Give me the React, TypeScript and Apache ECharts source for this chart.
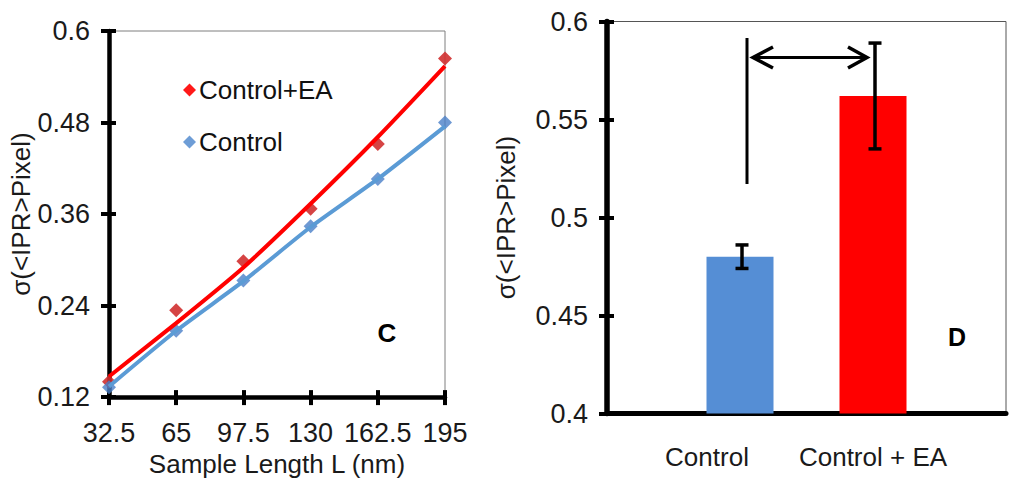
import React, { useEffect, useRef } from "react";
import * as echarts from "echarts";

// Left panel (C)
const lengths = [32.5, 65, 97.5, 130, 162.5, 195];
const eaPoints = [0.14, 0.234, 0.298, 0.367, 0.452, 0.564];
const ctrlPoints = [0.133, 0.207, 0.273, 0.344, 0.406, 0.48];
const eaTrend = [0.147, 0.217, 0.29, 0.3735, 0.461, 0.554];
const ctrlTrend = [0.134, 0.207, 0.272, 0.343, 0.406, 0.475];

// Right panel (D)
const barCategories = ["", "Control", "Control + EA", ""];
const barValues = [null, 0.48, 0.562, null];
const barErrLow = [null, 0.474, 0.535, null];
const barErrHigh = [null, 0.486, 0.589, null];

const FONT = "Liberation Sans, Arial, sans-serif";

export default function App() {
  const ref = useRef<HTMLDivElement>(null);
  useEffect(() => {
    document.body.style.margin = "0";
    const chart = echarts.init(ref.current!, null, { renderer: "svg" });

    const axisLabelStyle = { fontSize: 27, color: "#1a1a1a", fontFamily: FONT };
    const thickLine = { show: true, lineStyle: { color: "#000", width: 4.5 } };

    const option: any = {
      animation: false,
      backgroundColor: "#fff",
      textStyle: { fontFamily: FONT },
      grid: [
        { left: 109, top: 31, width: 336, height: 373, show: true, borderColor: "#7f7f7f", borderWidth: 1 },
        { left: 607, top: 21.5, width: 403, height: 392, show: true, borderColor: "#555", borderWidth: 1 },
      ],
      legend: {
        left: 178,
        top: 72,
        orient: "vertical",
        itemGap: 26,
        itemWidth: 13,
        itemHeight: 13,
        textStyle: { fontSize: 26, color: "#111", fontFamily: FONT, padding: [0, 0, 0, -2] },
        data: [
          { name: "Control+EA", icon: "diamond", itemStyle: { color: "#ff0000" } },
          { name: "Control", icon: "diamond", itemStyle: { color: "#4a84cc" } },
        ],
      },
      xAxis: [
        {
          gridIndex: 0,
          type: "value",
          position: "bottom",
          min: 32.5,
          max: 195,
          interval: 32.5,
          name: "Sample Length L (nm)",
          nameLocation: "middle",
          nameGap: 47,
          nameTextStyle: { fontSize: 26, color: "#1a1a1a", fontFamily: FONT },
          axisLine: thickLine,
          axisTick: { show: true, length: 8, lineStyle: { color: "#000", width: 4 } },
          axisLabel: { ...axisLabelStyle, margin: 22 },
          splitLine: { show: false },
        },
        {
          gridIndex: 0,
          type: "value",
          position: "bottom",
          min: 32.5,
          max: 195,
          interval: 32.5,
          axisLine: { show: false },
          axisTick: { show: true, inside: true, length: 7, lineStyle: { color: "#000", width: 4 } },
          axisLabel: { show: false },
          splitLine: { show: false },
        },
        {
          gridIndex: 1,
          type: "category",
          position: "bottom",
          data: [
            barCategories[0],
            { value: barCategories[1], textStyle: { padding: [0, 66, 0, 0] } },
            barCategories[2],
            barCategories[3],
          ],
          boundaryGap: false,
          axisLine: { show: true, lineStyle: { color: "#000", width: 5 } },
          axisTick: { show: false },
          axisLabel: { ...axisLabelStyle, fontSize: 26, margin: 30, interval: 0 },
          splitLine: { show: false },
        },
      ],
      yAxis: [
        {
          gridIndex: 0,
          type: "value",
          position: "left",
          min: 0.12,
          max: 0.6,
          interval: 0.12,
          name: "σ(<IPR>Pixel)",
          nameLocation: "middle",
          nameGap: 64,
          nameTextStyle: { fontSize: 26, color: "#1a1a1a", fontFamily: FONT },
          axisLine: thickLine,
          axisTick: { show: true, length: 8, lineStyle: { color: "#000", width: 4 } },
          axisLabel: { ...axisLabelStyle, margin: 19 },
          splitLine: { show: false },
        },
        {
          gridIndex: 0,
          type: "value",
          position: "left",
          min: 0.12,
          max: 0.6,
          interval: 0.12,
          axisLine: { show: false },
          axisTick: { show: true, inside: true, length: 7, lineStyle: { color: "#000", width: 4 } },
          axisLabel: { show: false },
          splitLine: { show: false },
        },
        {
          gridIndex: 1,
          type: "value",
          position: "left",
          min: 0.4,
          max: 0.6,
          interval: 0.05,
          name: "σ(<IPR>Pixel)",
          nameLocation: "middle",
          nameGap: 88,
          nameTextStyle: { fontSize: 26, color: "#1a1a1a", fontFamily: FONT },
          axisLine: { show: true, lineStyle: { color: "#000", width: 5.5 } },
          axisTick: { show: true, length: 8, lineStyle: { color: "#000", width: 4 } },
          axisLabel: { ...axisLabelStyle, margin: 19 },
          splitLine: { show: false },
        },
        {
          gridIndex: 1,
          type: "value",
          position: "left",
          min: 0.4,
          max: 0.6,
          interval: 0.05,
          axisLine: { show: false },
          axisTick: { show: true, inside: true, length: 7, lineStyle: { color: "#000", width: 4 } },
          axisLabel: { show: false },
          splitLine: { show: false },
        },
      ],
      series: [
        {
          name: "Control+EA",
          type: "scatter",
          xAxisIndex: 0,
          yAxisIndex: 0,
          symbol: "diamond",
          symbolSize: 14,
          itemStyle: { color: "#d03030", opacity: 0.9 },
          data: lengths.map((l, i) => [l, eaPoints[i]]),
          z: 2,
        },
        {
          name: "Control",
          type: "scatter",
          xAxisIndex: 0,
          yAxisIndex: 0,
          symbol: "diamond",
          symbolSize: 14,
          itemStyle: { color: "#4a7fc8" },
          data: lengths.map((l, i) => [l, ctrlPoints[i]]),
          z: 2,
        },
        {
          name: "Control+EA",
          type: "line",
          xAxisIndex: 0,
          yAxisIndex: 0,
          smooth: 0.2,
          showSymbol: false,
          lineStyle: { color: "#ff0000", width: 4 },
          data: lengths.map((l, i) => [l, eaTrend[i]]),
          z: 3,
        },
        {
          name: "Control",
          type: "line",
          xAxisIndex: 0,
          yAxisIndex: 0,
          smooth: 0.2,
          showSymbol: false,
          lineStyle: { color: "#5b9bd5", width: 4 },
          data: lengths.map((l, i) => [l, ctrlTrend[i]]),
          z: 3,
        },
        {
          type: "bar",
          xAxisIndex: 2,
          yAxisIndex: 2,
          barWidth: 67,
          data: barValues.map((v, i) =>
            v === null ? "-" : { value: v, itemStyle: { color: i === 1 ? "#558ed5" : "#ff0000" } }
          ),
          z: 2,
        },
        {
          type: "custom",
          xAxisIndex: 2,
          yAxisIndex: 2,
          z: 5,
          data: barValues
            .map((v, i) => (v === null ? null : [i, barErrLow[i], barErrHigh[i]]))
            .filter((d) => d !== null),
          renderItem: (params: any, api: any) => {
            const x = api.value(0);
            const lo = api.coord([x, api.value(1)]);
            const hi = api.coord([x, api.value(2)]);
            const cx = lo[0] + 2;
            const half = 6.5;
            const style = { stroke: "#000", lineWidth: 3.5 };
            return {
              type: "group",
              children: [
                { type: "line", shape: { x1: cx, y1: lo[1], x2: cx, y2: hi[1] }, style },
                { type: "line", shape: { x1: cx - half, y1: lo[1], x2: cx + half, y2: lo[1] }, style },
                { type: "line", shape: { x1: cx - half, y1: hi[1], x2: cx + half, y2: hi[1] }, style },
              ],
            };
          },
        },
      ],
      graphic: [
        // bracket annotation in panel D
        { type: "line", shape: { x1: 747, y1: 38, x2: 747, y2: 184 }, style: { stroke: "#000", lineWidth: 3 } },
        { type: "line", shape: { x1: 753, y1: 57.5, x2: 866, y2: 57.5 }, style: { stroke: "#000", lineWidth: 3 } },
        { type: "polyline", shape: { points: [[773, 47], [753, 57.5], [773, 68]] }, style: { stroke: "#000", lineWidth: 3.5, fill: null } },
        { type: "polyline", shape: { points: [[848, 47], [867, 57.5], [848, 68]] }, style: { stroke: "#000", lineWidth: 3.5, fill: null } },
        { type: "text", x: 387, y: 333, style: { text: "C", fontSize: 26, fontWeight: "bold", fill: "#000", fontFamily: FONT, align: "center", verticalAlign: "middle" } },
        { type: "text", x: 957, y: 337, style: { text: "D", fontSize: 25, fontWeight: "bold", fill: "#000", fontFamily: FONT, align: "center", verticalAlign: "middle" } },
      ],
    };
    chart.setOption(option);
    return () => chart.dispose();
  }, []);
  return <div ref={ref} style={{ width: 1009, height: 482 }} />;
}
